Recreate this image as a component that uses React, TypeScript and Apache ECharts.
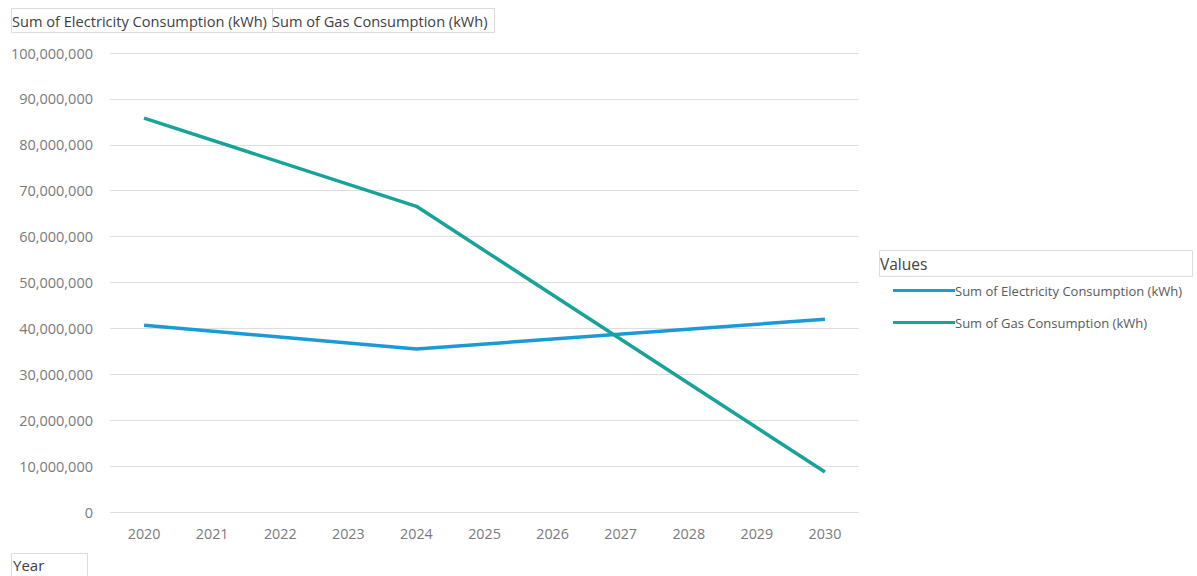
import React, { useEffect, useRef } from "react";
import * as echarts from "echarts";

const years = ["2020", "2021", "2022", "2023", "2024", "2025", "2026", "2027", "2028", "2029", "2030"];
// Only 2020, 2024 and 2030 carry values; the lines connect them.
const electricity: (number | null)[] = [40700000, null, null, null, 35500000, null, null, null, null, null, 42000000];
const gas: (number | null)[] = [85800000, null, null, null, 66600000, null, null, null, null, null, 8700000];
const seriesNames = ["Sum of Electricity Consumption (kWh)", "Sum of Gas Consumption (kWh)"];
const colors = ["#1B9AD6", "#17A398"];

const FONT = "Open Sans";

export default function App() {
  const ref = useRef<HTMLDivElement>(null);
  useEffect(() => {
    if (!ref.current) return;
    const chart = echarts.init(ref.current, undefined, { renderer: "svg" });
    chart.setOption({
      animation: false,
      backgroundColor: "#ffffff",
      textStyle: { fontFamily: FONT },
      grid: { left: 110, right: 338, top: 53, bottom: 64, containLabel: false },
      xAxis: {
        type: "category",
        data: years,
        boundaryGap: true,
        axisLine: { show: false },
        axisTick: { show: false },
        axisLabel: { color: "#7a7a7a", fontSize: 14.3, margin: 14, fontFamily: FONT },
      },
      yAxis: {
        type: "value",
        min: 0,
        max: 100000000,
        interval: 10000000,
        axisLine: { show: false },
        axisTick: { show: false },
        splitLine: { lineStyle: { color: "#dedede", width: 1 } },
        axisLabel: {
          color: "#7a7a7a",
          fontSize: 14.5,
          margin: 17,
          fontFamily: FONT,
          formatter: (v: number) => v.toLocaleString("en-US"),
        },
      },
      legend: {
        orient: "vertical",
        left: 888,
        top: 279,
        itemWidth: 62,
        itemHeight: 3,
        itemGap: 19,
        icon: "rect",
        textStyle: { color: "#595959", fontSize: 13, fontFamily: FONT, padding: [0, 0, 0, -5] },
        data: seriesNames,
      },
      graphic: [
        { type: "rect", shape: { x: 11.5, y: 8.5, width: 261, height: 24 }, style: { fill: "#fff", stroke: "#dcdcdc", lineWidth: 1 } },
        { type: "rect", shape: { x: 272.5, y: 8.5, width: 222, height: 24 }, style: { fill: "#fff", stroke: "#dcdcdc", lineWidth: 1 } },
        { type: "text", x: 12, y: 21, style: { text: seriesNames[0], fill: "#404040", fontSize: 14.6, fontFamily: FONT, verticalAlign: "middle" } },
        { type: "text", x: 272, y: 21, style: { text: seriesNames[1], fill: "#404040", fontSize: 14.6, fontFamily: FONT, verticalAlign: "middle" } },
        { type: "rect", shape: { x: 11.5, y: 553.5, width: 76, height: 24 }, style: { fill: "#fff", stroke: "#dcdcdc", lineWidth: 1 } },
        { type: "text", x: 13, y: 565, style: { text: "Year", fill: "#404040", fontSize: 15, fontFamily: FONT, verticalAlign: "middle" } },
        { type: "rect", shape: { x: 879.5, y: 250.5, width: 313, height: 26 }, style: { fill: "#fff", stroke: "#dcdcdc", lineWidth: 1 } },
        { type: "text", x: 880, y: 264, style: { text: "Values", fill: "#404040", fontSize: 15.5, fontFamily: FONT, verticalAlign: "middle" } },
      ],
      series: [
        {
          name: seriesNames[0],
          type: "line",
          data: electricity,
          connectNulls: true,
          showSymbol: false,
          symbol: "none",
          lineStyle: { color: colors[0], width: 3.5 },
          itemStyle: { color: colors[0] },
        },
        {
          name: seriesNames[1],
          type: "line",
          data: gas,
          connectNulls: true,
          showSymbol: false,
          symbol: "none",
          lineStyle: { color: colors[1], width: 3.5 },
          itemStyle: { color: colors[1] },
        },
      ],
    });
    return () => chart.dispose();
  }, []);
  return <div ref={ref} style={{ position: "absolute", left: 0, top: 0, width: 1197, height: 576 }} />;
}
